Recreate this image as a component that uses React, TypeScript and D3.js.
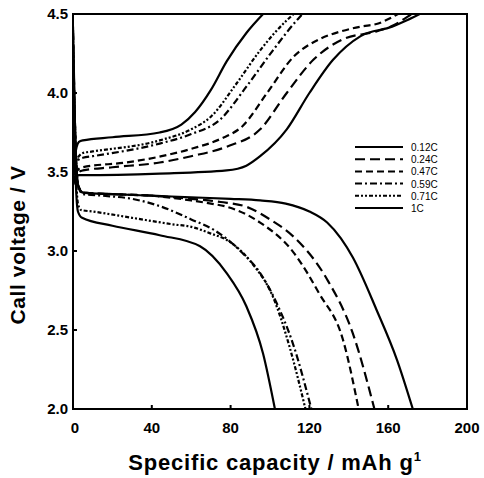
import React, { useEffect, useRef } from 'react'
import * as d3 from 'd3'

const rates = ['0.12C', '0.24C', '0.47C', '0.59C', '0.71C', '1C']
const dashes = ['none', '10,5', '7,4', '7,3,2,3', '4,2,2,2,2,2', 'none']

// charge curves (capacity, voltage)
const chargeCap = [
	[0, 1, 3, 5, 44, 78, 88, 95, 108.5, 120, 132, 146, 162, 169.5, 176],
	[0, 1, 3, 5, 20, 44, 60, 78, 95, 108.5, 122, 137, 154, 163, 169.5, 172],
	[0, 1, 3, 5, 27, 45, 61, 75, 86, 98.5, 112, 125, 136, 146, 155, 162, 165],
	[0, 1, 3, 5, 10, 44, 60, 74.5, 88, 101.5, 115, 116.5],
	[0, 1, 3, 5, 10, 44, 60, 70, 83, 95, 108.5, 112],
	[0, 1, 3, 5, 20, 44, 55, 62, 70, 78, 88, 96.5],
]
const chargeV = [
	[3.42, 3.46, 3.48, 3.48, 3.49, 3.51, 3.54, 3.6, 3.77, 4.0, 4.21, 4.36, 4.42, 4.46, 4.5],
	[3.42, 3.47, 3.5, 3.51, 3.53, 3.56, 3.6, 3.66, 3.77, 4.0, 4.21, 4.34, 4.39, 4.43, 4.48, 4.5],
	[3.42, 3.48, 3.52, 3.53, 3.56, 3.6, 3.65, 3.71, 3.79, 4.0, 4.23, 4.34, 4.39, 4.42, 4.44, 4.48, 4.5],
	[3.42, 3.52, 3.58, 3.59, 3.6, 3.68, 3.74, 3.83, 4.04, 4.27, 4.48, 4.5],
	[3.42, 3.55, 3.6, 3.62, 3.63, 3.7, 3.77, 3.85, 4.06, 4.27, 4.46, 4.5],
	[3.42, 3.6, 3.69, 3.7, 3.72, 3.75, 3.8, 3.88, 4.02, 4.2, 4.38, 4.5],
]

// discharge curves (capacity, voltage)
const dischargeCap = [
	[0, 1, 2.5, 5, 20, 40, 60, 80, 95, 108, 120, 129, 136, 142, 154, 164.5, 172.5],
	[0, 1, 2.5, 5, 20, 40, 60, 75, 88, 100, 112, 129, 142, 153],
	[0, 1, 2.5, 5, 20, 40, 60, 70, 78, 95, 112, 125, 137, 145],
	[0, 1, 2.5, 5, 15, 30, 45, 60, 72, 85, 95, 103, 112, 121],
	[0, 1, 2.5, 4, 10, 30, 50, 61, 70, 78, 91, 101.5, 110, 118],
	[0, 1, 2.5, 4.6, 20, 44, 64.5, 78, 88, 96.5, 102.5],
]
const dischargeV = [
	[4.42, 3.8, 3.42, 3.37, 3.36, 3.35, 3.34, 3.33, 3.32, 3.3, 3.25, 3.18, 3.08, 2.96, 2.63, 2.31, 2.0],
	[4.4, 3.8, 3.42, 3.37, 3.36, 3.35, 3.33, 3.31, 3.28, 3.2, 3.09, 2.82, 2.48, 2.0],
	[4.38, 3.8, 3.42, 3.37, 3.36, 3.35, 3.32, 3.3, 3.28, 3.18, 2.99, 2.73, 2.44, 2.0],
	[4.36, 3.8, 3.42, 3.36, 3.35, 3.33, 3.28, 3.2, 3.13, 3.0, 2.86, 2.68, 2.4, 2.0],
	[4.3, 3.7, 3.3, 3.26, 3.25, 3.21, 3.17, 3.15, 3.11, 3.07, 2.92, 2.71, 2.39, 2.0],
	[4.25, 3.6, 3.25, 3.21, 3.16, 3.1, 3.03, 2.86, 2.65, 2.35, 2.0],
]

const xTicks = [0, 40, 80, 120, 160, 200]
const yTicks = [2.0, 2.5, 3.0, 3.5, 4.0, 4.5]

const W = 484
const H = 478
const margin = { left: 73, right: 17, top: 14, bottom: 69 }

const App = () => {
	const ref = useRef<SVGSVGElement>(null)

	useEffect(() => {
		const svg = d3.select(ref.current)
		svg.selectAll('*').remove()

		const x = d3.scaleLinear().domain([0, 200]).range([margin.left, W - margin.right])
		const y = d3.scaleLinear().domain([2.0, 4.5]).range([H - margin.bottom, margin.top])

		svg.append('clipPath')
			.attr('id', 'plot')
			.append('rect')
			.attr('x', margin.left)
			.attr('y', margin.top)
			.attr('width', W - margin.left - margin.right)
			.attr('height', H - margin.top - margin.bottom)

		const line = d3
			.line<[number, number]>()
			.x(d => x(d[0]))
			.y(d => y(d[1]))
			.curve(d3.curveMonotoneX)

		const g = svg.append('g').attr('clip-path', 'url(#plot)')

		const drawSet = (caps: number[][], volts: number[][]) => {
			caps.forEach((c, i) => {
				const pts = c.map((v, j) => [v, volts[i][j]] as [number, number])
				g.append('path')
					.attr('d', line(pts))
					.attr('fill', 'none')
					.attr('stroke', '#000')
					.attr('stroke-width', 2.2)
					.attr('stroke-dasharray', dashes[i])
			})
		}
		drawSet(chargeCap, chargeV)
		drawSet(dischargeCap, dischargeV)

		// frame
		svg.append('rect')
			.attr('x', margin.left)
			.attr('y', margin.top)
			.attr('width', W - margin.left - margin.right)
			.attr('height', H - margin.top - margin.bottom)
			.attr('fill', 'none')
			.attr('stroke', '#000')
			.attr('stroke-width', 2)

		// inner ticks
		svg.append('g')
			.selectAll('line')
			.data(xTicks.slice(1, -1))
			.enter()
			.append('line')
			.attr('x1', d => x(d))
			.attr('x2', d => x(d))
			.attr('y1', y(2.0))
			.attr('y2', y(2.0) - 4)
			.attr('stroke', '#000')
			.attr('stroke-width', 2)
		svg.append('g')
			.selectAll('line')
			.data(yTicks.slice(1, -1))
			.enter()
			.append('line')
			.attr('x1', x(0))
			.attr('x2', x(0) + 4)
			.attr('y1', d => y(d))
			.attr('y2', d => y(d))
			.attr('stroke', '#000')
			.attr('stroke-width', 2)

		const font = 'Liberation Sans, Arial, sans-serif'

		svg.append('g')
			.selectAll('text')
			.data(xTicks)
			.enter()
			.append('text')
			.attr('x', d => x(d) + (d === 0 ? 2 : 0))
			.attr('y', 433)
			.attr('text-anchor', 'middle')
			.style('font-family', font)
			.style('font-weight', 'bold')
			.style('font-size', '15px')
			.text(d => d)

		svg.append('g')
			.selectAll('text')
			.data(yTicks)
			.enter()
			.append('text')
			.attr('x', 68)
			.attr('y', d => y(d) + 5)
			.attr('text-anchor', 'end')
			.style('font-family', font)
			.style('font-weight', 'bold')
			.style('font-size', '15px')
			.text(d => d.toFixed(1))

		const xt = svg.append('text')
			.attr('x', 275)
			.attr('y', 470)
			.attr('text-anchor', 'middle')
			.style('font-family', font)
			.style('font-weight', 'bold')
			.style('font-size', '22px')
			.style('letter-spacing', '0.8px')
		xt.append('tspan').text('Specific capacity / mAh g')
		xt.append('tspan').attr('dy', -9).style('font-size', '13px').text('1')

		svg.append('text')
			.attr('transform', `translate(25,245) rotate(-90)`)
			.attr('text-anchor', 'middle')
			.style('font-family', font)
			.style('font-weight', 'bold')
			.style('font-size', '21px')
			.style('letter-spacing', '0.6px')
			.text('Call voltage / V')

		// legend
		const lg = svg.append('g')
		rates.forEach((r, i) => {
			const ly = 147 + i * 12.2
			lg.append('line')
				.attr('x1', 355)
				.attr('x2', 403)
				.attr('y1', ly)
				.attr('y2', ly)
				.attr('stroke', '#000')
				.attr('stroke-width', 2)
				.attr('stroke-dasharray', dashes[i])
			lg.append('text')
				.attr('x', 411)
				.attr('y', ly + 4)
				.style('font-family', font)
				.style('font-size', '10px')
				.text(r)
		})
	}, [])

	return (
		<svg
			ref={ref}
			width={W}
			height={H}
			style={{ position: 'absolute', left: 0, top: 0, background: '#fff' }}
		></svg>
	)
}

export default App
